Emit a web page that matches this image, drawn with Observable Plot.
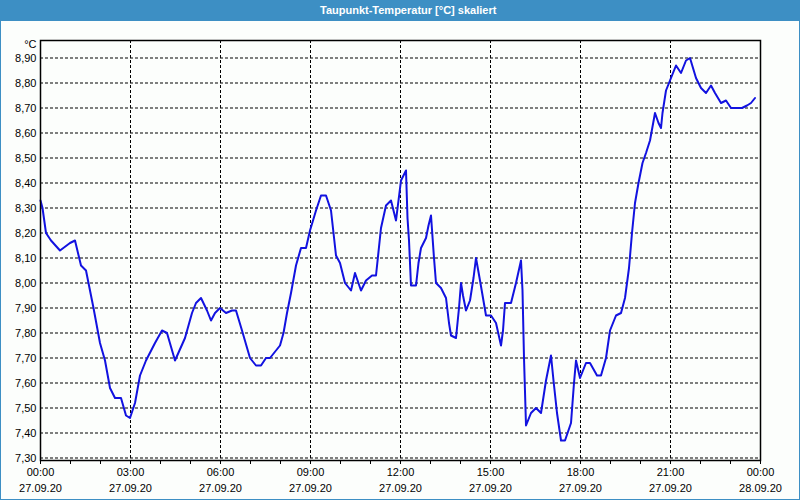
<!DOCTYPE html>
<html>
<head>
<meta charset="utf-8">
<script src="https://cdn.jsdelivr.net/npm/d3@7"></script>
<script src="https://cdn.jsdelivr.net/npm/@observablehq/plot@0.6"></script>
<style>
  html, body { margin: 0; padding: 0; background: #fcfefc; }
  #wrap { position: relative; width: 800px; height: 500px; overflow: hidden; background: #fcfefc; }
  #title { position: absolute; left: 0; top: 0; width: 800px; height: 21px; background: #3d8fc4;
           color: #fff; font: bold 11px "Liberation Sans", sans-serif; line-height: 21px; }
  #title span { position: absolute; left: 320px; top: 0; white-space: nowrap; }
  #chart { position: absolute; left: 0; top: 20px; }
  #border { position: absolute; left: 0; top: 0; width: 798px; height: 499px;
            border-left: 1px solid #3d8fc4; border-right: 1px solid #3d8fc4; border-bottom: 1px solid #3d8fc4;
            pointer-events: none; }
</style>
</head>
<body>
<div id="wrap">
  <div id="title"><span>Taupunkt-Temperatur [°C] skaliert</span></div>
  <div id="chart"></div>
  <div id="border"></div>
</div>
<script>
// Time of each reading (minutes after 27.09.20 00:00)
const minutes = [0,4,11,21,39,59,69,81,91,106,119,129,139,149,161,171,179,189,199,211,229,243,253,269,289,303,311,321,333,341,349,359,371,383,391,403,419,431,441,451,459,479,486,493,501,511,521,531,539,551,561,571,581,591,599,609,621,629,641,651,663,671,681,691,701,711,721,726,731,734,737,741,751,756,761,771,776,781,787,791,801,811,817,821,831,837,841,845,851,859,866,871,879,891,901,911,921,925,929,941,951,961,964,967,971,981,991,1001,1011,1021,1026,1033,1041,1049,1061,1067,1071,1079,1091,1099,1113,1121,1131,1139,1151,1161,1169,1177,1183,1189,1196,1204,1211,1219,1229,1236,1241,1244,1251,1261,1271,1281,1291,1299,1311,1321,1331,1341,1349,1361,1371,1381,1391,1403,1413,1421,1429];
// Dew point temperature in °C
const values = [8.33,8.30,8.20,8.17,8.13,8.16,8.17,8.07,8.05,7.90,7.76,7.69,7.58,7.54,7.54,7.47,7.46,7.52,7.63,7.69,7.76,7.81,7.80,7.69,7.78,7.88,7.92,7.94,7.89,7.85,7.88,7.90,7.88,7.89,7.89,7.81,7.70,7.67,7.67,7.70,7.70,7.75,7.80,7.88,7.96,8.07,8.14,8.14,8.21,8.29,8.35,8.35,8.29,8.11,8.08,8.00,7.97,8.04,7.97,8.01,8.03,8.03,8.22,8.31,8.33,8.25,8.41,8.43,8.45,8.26,8.17,7.99,7.99,8.08,8.14,8.18,8.23,8.27,8.10,8.00,7.98,7.94,7.84,7.79,7.78,7.90,8.00,7.95,7.89,7.93,8.02,8.10,8.01,7.87,7.87,7.84,7.75,7.81,7.92,7.92,8.00,8.09,7.97,7.70,7.43,7.48,7.50,7.48,7.61,7.71,7.61,7.48,7.37,7.37,7.44,7.60,7.69,7.62,7.68,7.68,7.63,7.63,7.70,7.81,7.87,7.88,7.94,8.06,8.20,8.32,8.40,8.48,8.52,8.57,8.68,8.64,8.62,8.68,8.77,8.82,8.87,8.84,8.89,8.90,8.82,8.78,8.76,8.79,8.76,8.72,8.73,8.70,8.70,8.70,8.71,8.72,8.74];

const yTicks = [7.30,7.40,7.50,7.60,7.70,7.80,7.90,8.00,8.10,8.20,8.30,8.40,8.50,8.60,8.70,8.80,8.90];
const xTickHours = [0,3,6,9,12,15,18,21,24];
const xTickTimes = ["00:00","03:00","06:00","09:00","12:00","15:00","18:00","21:00","00:00"];
const xTickDates = ["27.09.20","27.09.20","27.09.20","27.09.20","27.09.20","27.09.20","27.09.20","27.09.20","28.09.20"];
const minorHours = [0,1,2,3,4,5,6,7,8,9,10,11,12,13,14,15,16,17,18,19,20,21,22,23,24];
const yUnit = "°C";

const base = Date.UTC(2020, 8, 27);
const toDate = m => new Date(base + m * 60000);
const data = minutes.map((m, i) => ({t: toDate(m), v: values[i]}));
const majors = xTickHours.map((h, i) => ({t: toDate(h * 60), time: xTickTimes[i], date: xTickDates[i]}));
const minors = minorHours.map(h => toDate(h * 60));

const chart = Plot.plot({
  width: 800,
  height: 478,
  marginLeft: 40,
  marginRight: 40,
  marginTop: 20,
  marginBottom: 38,
  style: {background: "transparent", fontFamily: "Liberation Sans, sans-serif", fontSize: "11px", color: "#000"},
  x: {type: "utc", domain: [toDate(0), toDate(24 * 60)], ticks: minors, tickSize: 4, tickFormat: () => "", label: null},
  y: {domain: [7.29, 8.97], ticks: yTicks, tickSize: 0, tickPadding: 4, label: null,
      tickFormat: d => d.toFixed(2).replace(".", ",")},
  marks: [
    Plot.ruleY(yTicks, {stroke: "#000", strokeWidth: 1, strokeDasharray: "3,2"}),
    Plot.ruleX(majors.slice(1, -1), {x: "t", stroke: "#000", strokeWidth: 1, strokeDasharray: "3,2"}),
    Plot.line(data, {x: "t", y: "v", stroke: "#1212e0", strokeWidth: 2}),
    Plot.frame({stroke: "#000", strokeWidth: 1.5}),
    Plot.text(majors, {x: "t", frameAnchor: "bottom", dy: 15, text: "time", fill: "#000"}),
    Plot.text(majors, {x: "t", frameAnchor: "bottom", dy: 31, text: "date", fill: "#000"}),
    Plot.text([yUnit], {frameAnchor: "top-left", dx: -4, dy: 4, lineAnchor: "middle", text: d => d, textAnchor: "end", fill: "#000"})
  ]
});
document.getElementById("chart").appendChild(chart);
</script>
</body>
</html>
